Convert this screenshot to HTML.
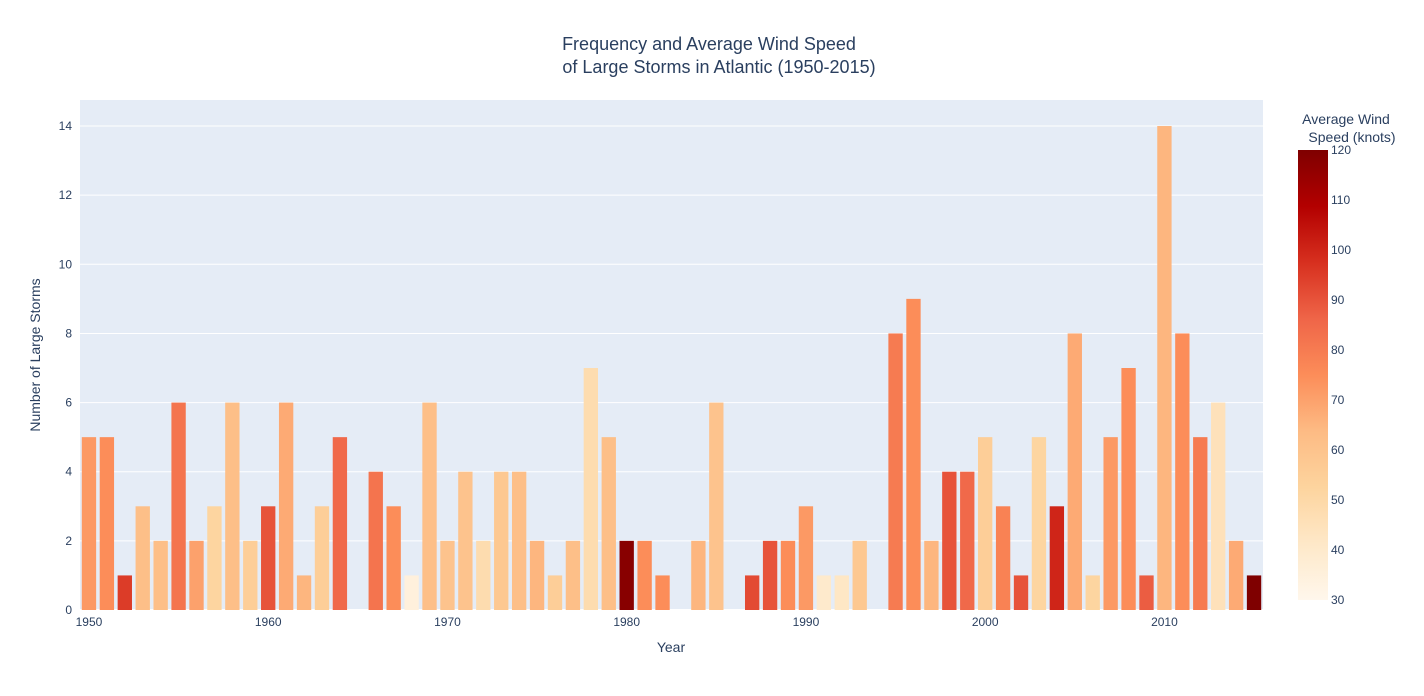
<!DOCTYPE html>
<html><head><meta charset="utf-8"><style>
body{margin:0;background:#fff;font-family:"Liberation Sans",sans-serif}
svg text{font-family:"Liberation Sans",sans-serif;fill:#2a3f5f}
</style></head><body>
<svg id="c" width="1424" height="691">
<defs><linearGradient id="cg" x1="0" y1="1" x2="0" y2="0">
<stop offset="0" stop-color="#fff7ec"/><stop offset="0.125" stop-color="#fee8c8"/><stop offset="0.25" stop-color="#fdd49e"/><stop offset="0.375" stop-color="#fdbb84"/><stop offset="0.5" stop-color="#fc8d59"/><stop offset="0.625" stop-color="#ef6548"/><stop offset="0.75" stop-color="#d7301f"/><stop offset="0.875" stop-color="#b30000"/><stop offset="1" stop-color="#7f0000"/>
</linearGradient></defs>
<rect x="80" y="100" width="1183" height="510" fill="#e5ecf6"/>
<g id="grid"></g><g id="bars"></g><g id="axes"></g>
<text x="709" y="50" font-size="18" text-anchor="middle">Frequency and Average Wind Speed</text>
<text x="719" y="73" font-size="18" text-anchor="middle">of Large Storms in Atlantic (1950-2015)</text>
<text x="671" y="652" font-size="14" text-anchor="middle">Year</text>
<text transform="translate(40,355) rotate(-90)" font-size="14" text-anchor="middle">Number of Large Storms</text>
<text x="1346" y="124" font-size="14" text-anchor="middle">Average Wind</text>
<text x="1352" y="142" font-size="14" text-anchor="middle">Speed (knots)</text>
<rect x="1298" y="150" width="30" height="450" fill="url(#cg)"/>
<g id="cb"></g>
</svg>
<script>
const years=[];for(let y=1950;y<=2015;y++)years.push(y);
const counts=[5,5,1,3,2,6,2,3,6,2,3,6,1,3,5,0,4,3,1,6,2,4,2,4,4,2,1,2,7,5,2,2,1,0,2,6,0,1,2,2,3,1,1,2,0,8,9,2,4,4,5,3,1,5,3,8,1,5,7,1,14,8,5,6,2,1];
const winds=[72,75,95,62,62,82,70,52,62,55,90,68,65,55,85,0,82,75,35,62,60,60,48,58,62,65,55,62,48,62,118,75,75,0,65,60,0,92,90,75,72,40,42,58,0,80,75,65,90,85,55,78,90,52,100,68,52,72,75,88,65,75,80,45,68,120];
const yTicks=[0,2,4,6,8,10,12,14];
const xTicks=[1950,1960,1970,1980,1990,2000,2010];
const cbTicks=[30,40,50,60,70,80,90,100,110,120];
const NS='http://www.w3.org/2000/svg';
const X=v=>80+(v-1949.5)/66*1183, Y=v=>610-v*34.57, CB=v=>600-(v-30)/90*450;
const stops=[[255,247,236],[254,232,200],[253,212,158],[253,187,132],[252,141,89],[239,101,72],[215,48,31],[179,0,0],[127,0,0]];
function col(w){let t=Math.max(0,Math.min(1,(w-30)/90))*8,i=Math.min(7,Math.floor(t)),f=t-i,a=stops[i],b=stops[i+1];return `rgb(${a.map((c,k)=>Math.round(c+(b[k]-c)*f)).join(',')})`;}
function mk(tag,at,p,txt){const e=document.createElementNS(NS,tag);for(const k in at)e.setAttribute(k,at[k]);if(txt!==undefined)e.textContent=txt;p.appendChild(e);return e;}
const g=document.getElementById('grid'),b=document.getElementById('bars'),ax=document.getElementById('axes'),cb=document.getElementById('cb');
yTicks.forEach(t=>{const l=mk('line',{x1:80,x2:1263,y1:Y(t),y2:Y(t),stroke:'#fff','stroke-width':t===0?2:1},g);

const tx=mk('text',{x:72,y:Y(t)+4,'font-size':12,'text-anchor':'end'},ax,t);
});
xTicks.forEach(t=>{const tx=mk('text',{x:X(t),y:626,'font-size':12,'text-anchor':'middle'},ax,t);
});
years.forEach((y,i)=>{if(!counts[i])return;const w=1183/66*0.8;
const r=mk('rect',{x:X(y)-w/2,y:Y(counts[i]),width:w,height:counts[i]*34.57,fill:col(winds[i])},b);
});
cbTicks.forEach(t=>{
const tx=mk('text',{x:1331,y:CB(t)+4,'font-size':12},cb,t);
});
</script>
</body></html>
